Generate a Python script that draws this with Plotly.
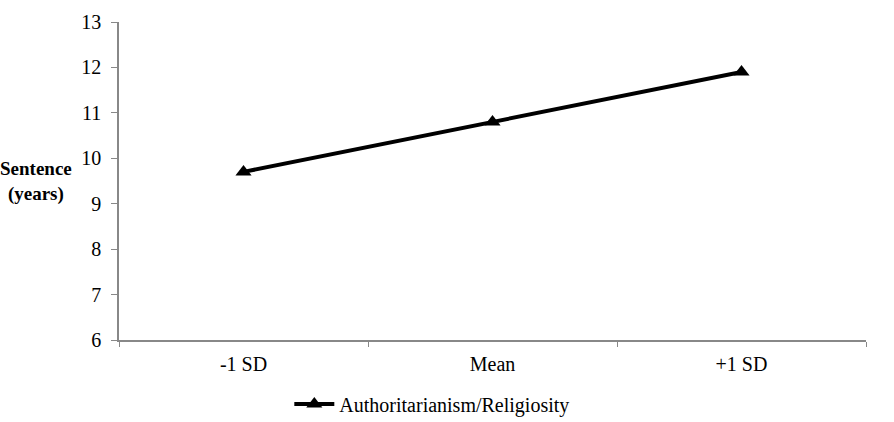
import plotly.graph_objects as go

categories = ["-1 SD", "Mean", "+1 SD"]
values = [9.7, 10.8, 11.9]
series_name = "Authoritarianism/Religiosity"
y_ticks = [6, 7, 8, 9, 10, 11, 12, 13]

fig = go.Figure()
fig.add_trace(go.Scatter(
    x=categories, y=values, mode="lines+markers", name=series_name,
    line=dict(color="black", width=4),
    marker=dict(symbol="triangle-up", size=14, color="black"),
    showlegend=True,
))

font_family = "Liberation Serif"
fig.update_layout(
    width=894, height=422,
    margin=dict(l=119, r=28, t=22, b=82, autoexpand=False),
    paper_bgcolor="white", plot_bgcolor="white",
    font=dict(family=font_family, size=20, color="black"),
    showlegend=True,
    legend=dict(orientation="h", x=0.228, xanchor="left", y=-0.14, yanchor="top",
                font=dict(size=20, family=font_family), itemwidth=40),
    xaxis=dict(
        type="category", range=[-0.5, 2.5], showline=True, linecolor="#888888", linewidth=1.5,
        ticks="outside", ticklen=5, tickcolor="#888888", tickson="boundaries",
        showgrid=False, zeroline=False, tickfont=dict(size=20, family=font_family),
        ticklabelstandoff=5,
    ),
    yaxis=dict(
        range=[6, 13], tickvals=y_ticks, showline=True, linecolor="#888888", linewidth=1.5,
        ticks="outside", ticklen=6, tickcolor="#888888", showgrid=False, zeroline=False,
        tickfont=dict(size=20, family=font_family), ticklabelstandoff=6,
    ),
    annotations=[dict(
        text="<b>Sentence</b><br><b>(years)</b>", x=(36 - 119) / 747, y=9.48,
        xref="x domain", yref="y", xanchor="center", yanchor="middle",
        showarrow=False, font=dict(size=19, family=font_family), align="center",
    )],
)
fig.write_html("out.html")
